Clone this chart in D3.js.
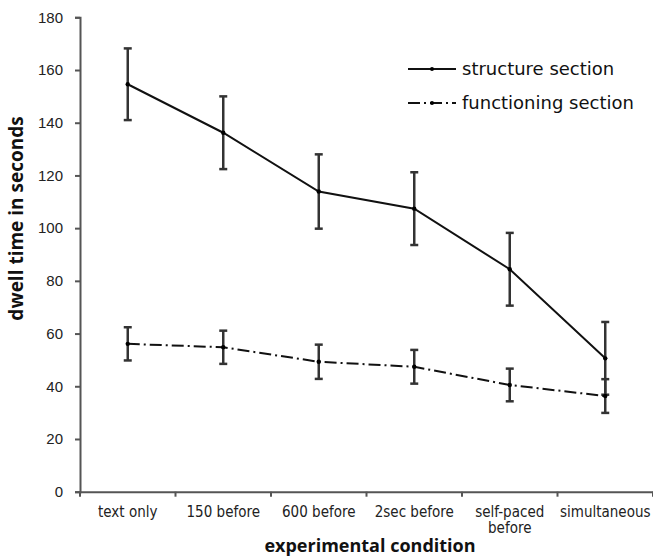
<!DOCTYPE html>
<html>
<head>
<meta charset="utf-8">
<script src="https://cdn.jsdelivr.net/npm/d3@7"></script>
<style>
  body { margin: 0; background: #fff; }
  svg { display: block; }
</style>
</head>
<body>
<svg id="chart" width="653" height="557"></svg>
<script>
// dwell time per experimental condition, two sections with error bars

const conditions = ["text only", "150 before", "600 before", "2sec before", "self-paced before", "simultaneous"];
const structureMean = [154.6, 136.2, 113.9, 107.4, 84.4, 50.6];
const structureErr = [13.6, 13.8, 14.1, 13.8, 13.8, 13.8];
const functioningMean = [56.1, 54.8, 49.3, 47.4, 40.5, 36.3];
const functioningErr = [6.3, 6.3, 6.5, 6.4, 6.2, 6.4];
const yTicks = [0, 20, 40, 60, 80, 100, 120, 140, 160, 180];

const series = [
  { name: "structure section", mean: structureMean, err: structureErr, dash: null },
  { name: "functioning section", mean: functioningMean, err: functioningErr, dash: "12,4,2,4" }
];

const svg = d3.select("#chart");
const plotLeft = 80, plotRight = 653, plotTop = 17.3, plotBottom = 491.7;

const x = d3.scaleBand().domain(conditions).range([plotLeft, plotRight]);
const y = d3.scaleLinear().domain([0, 180]).range([plotBottom, plotTop]);

// axes
const axisColor = "#555";
const yAxis = svg.append("g")
  .attr("transform", `translate(${plotLeft},0)`)
  .call(d3.axisLeft(y).tickValues(yTicks).tickSize(5).tickPadding(12));
yAxis.selectAll("text")
  .style("font-family", "'Liberation Sans', Arial, sans-serif")
  .style("font-size", "15px")
  .attr("fill", "#222");

const xAxis = svg.append("g")
  .attr("transform", `translate(0,${plotBottom})`)
  .call(d3.axisBottom(x).tickSize(0).tickFormat(""));
// boundary ticks between categories
xAxis.selectAll(".bound")
  .data(d3.range(conditions.length + 1))
  .enter().append("line")
  .attr("class", "bound")
  .attr("x1", i => plotLeft + i * x.bandwidth())
  .attr("x2", i => plotLeft + i * x.bandwidth())
  .attr("y1", 0).attr("y2", 5)
  .attr("stroke", axisColor).attr("stroke-width", 2);

svg.selectAll(".domain").attr("stroke", axisColor).attr("stroke-width", 2);
yAxis.selectAll(".tick line").attr("stroke", axisColor).attr("stroke-width", 2);

// x category labels (wrap "self-paced before")
const xl = svg.append("g")
  .style("font-family", "'DejaVu Sans Condensed', 'DejaVu Sans', sans-serif")
  .style("font-stretch", "condensed")
  .style("font-size", "15px")
  .attr("fill", "#222")
  .attr("text-anchor", "middle");
conditions.forEach(c => {
  const lines = c === "self-paced before" ? ["self-paced", "before"] : [c];
  const t = xl.append("text").attr("x", x(c) + x.bandwidth() / 2).attr("y", plotBottom + 25);
  lines.forEach((ln, i) => t.append("tspan")
    .attr("x", x(c) + x.bandwidth() / 2)
    .attr("dy", i === 0 ? 0 : 16.5)
    .text(ln));
});

// axis titles
svg.append("text")
  .attr("transform", `translate(23,${(plotTop + plotBottom) / 2 - 36}) rotate(-90)`)
  .attr("text-anchor", "middle")
  .style("font-family", "'Open Sans', sans-serif")
  .style("font-weight", "bold")
  .style("font-size", "19px")
  .attr("fill", "#111")
  .text("dwell time in seconds");

svg.append("text")
  .attr("x", 370).attr("y", 552)
  .attr("text-anchor", "middle")
  .style("font-family", "'Open Sans', sans-serif")
  .style("font-weight", "bold")
  .style("font-size", "18px")
  .attr("fill", "#111")
  .text("experimental condition");

// series
const cx = i => x(conditions[i]) + x.bandwidth() / 2;
const line = d3.line().x((d, i) => cx(i)).y(d => y(d));

series.forEach(s => {
  const g = svg.append("g");
  // error bars
  s.mean.forEach((m, i) => {
    const e = s.err[i];
    g.append("line")
      .attr("x1", cx(i)).attr("x2", cx(i))
      .attr("y1", y(m + e)).attr("y2", y(m - e))
      .attr("stroke", "#333").attr("stroke-width", 2.5);
    [m + e, m - e].forEach(v => g.append("line")
      .attr("x1", cx(i) - 4).attr("x2", cx(i) + 4)
      .attr("y1", y(v)).attr("y2", y(v))
      .attr("stroke", "#333").attr("stroke-width", 2.5));
  });
  g.append("path")
    .datum(s.mean)
    .attr("d", line)
    .attr("fill", "none")
    .attr("stroke", "#111")
    .attr("stroke-width", 2)
    .attr("stroke-dasharray", s.dash);
  g.selectAll("circle")
    .data(s.mean)
    .enter().append("circle")
    .attr("cx", (d, i) => cx(i)).attr("cy", d => y(d))
    .attr("r", 2.2).attr("fill", "#000");
});

// legend
const legend = svg.append("g");
series.forEach((s, i) => {
  const ly = 69 + i * 34;
  legend.append("line")
    .attr("x1", 408).attr("x2", 456)
    .attr("y1", ly).attr("y2", ly)
    .attr("stroke", "#111").attr("stroke-width", 2)
    .attr("stroke-dasharray", s.dash ? "12,4,2,4" : null);
  legend.append("circle").attr("cx", 432).attr("cy", ly).attr("r", 2).attr("fill", "#000");
  legend.append("text")
    .attr("x", 462).attr("y", ly + 6)
    .style("font-family", "'DejaVu Sans', Verdana, sans-serif")
    .style("font-size", "18px")
    .attr("fill", "#111")
    .text(s.name);
});
</script>
</body>
</html>
